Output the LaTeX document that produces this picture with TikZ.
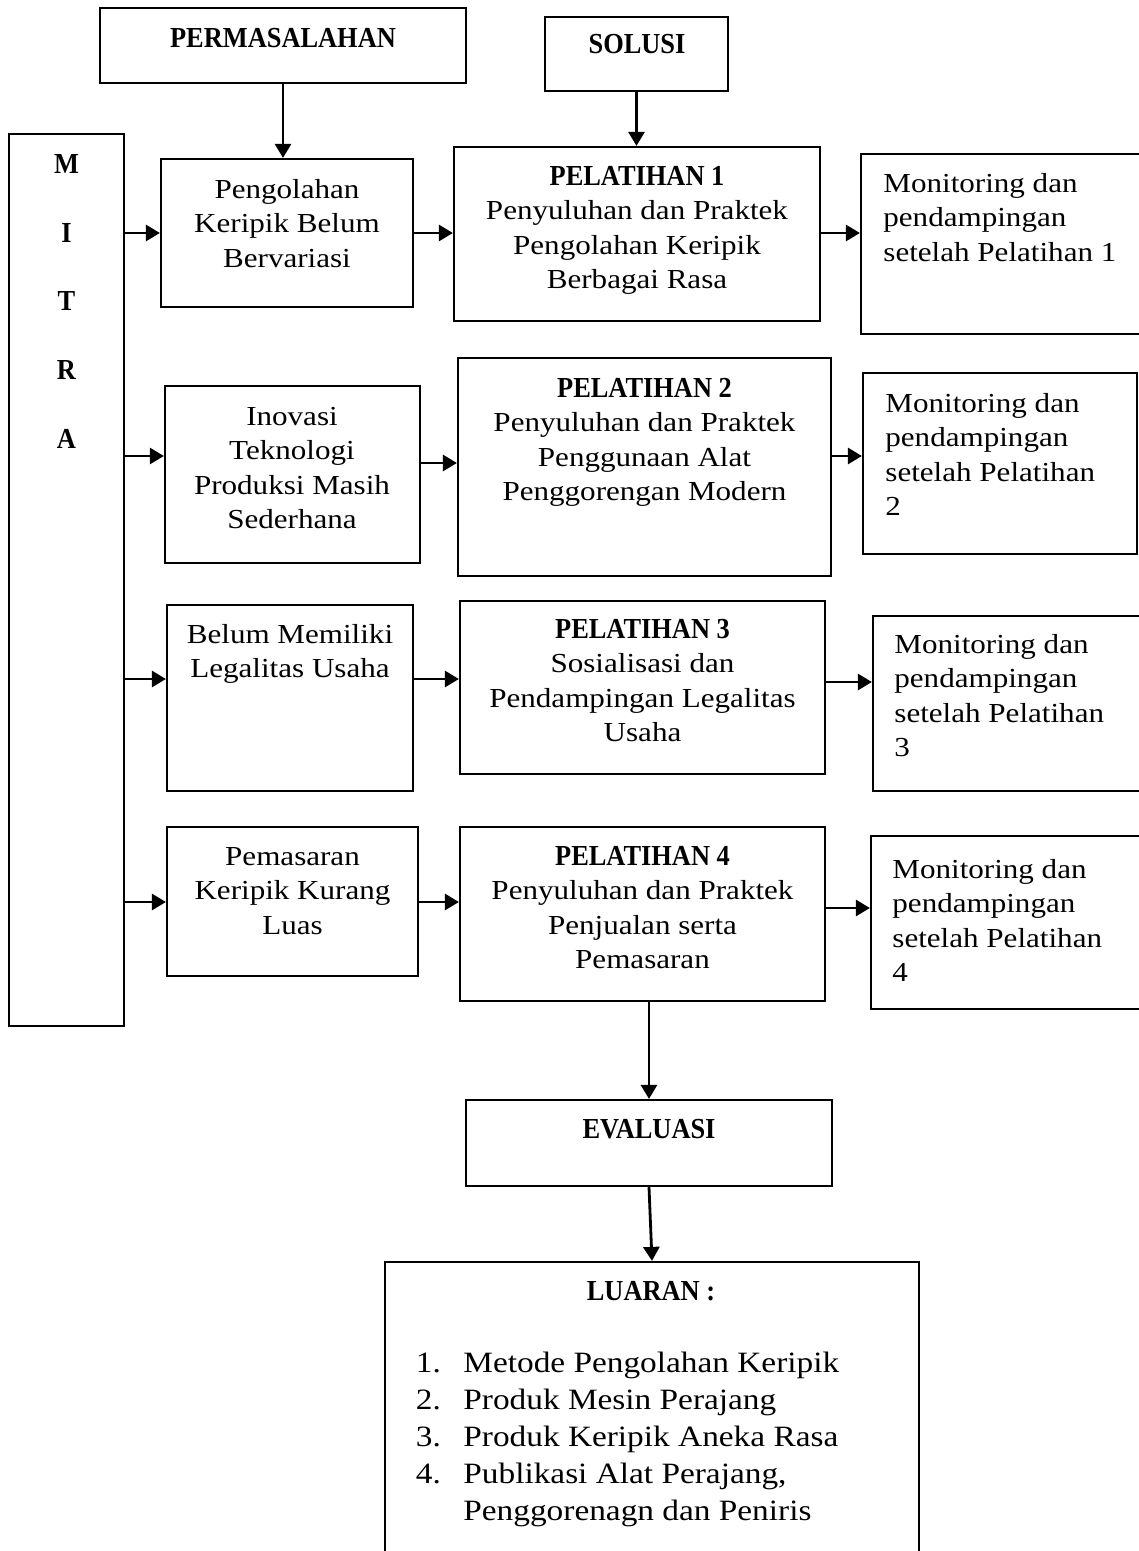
\documentclass[tikz,border=0pt]{standalone}
\usepackage{fontspec}
\setmainfont{Liberation Serif}[FakeStretch=1.13]
\newfontfamily\hdfont{Liberation Serif}[FakeStretch=0.91]
\newcommand\hd{\fontsize{14.5}{17.25}\hdfont\bfseries\selectfont}
\usetikzlibrary{arrows.meta,fit}
\begin{document}
\begin{tikzpicture}[x=0.5pt,y=-0.5pt,
  box/.style={draw, line width=1.1pt, inner sep=0pt},
  arr/.style={line width=1.4pt, -{Triangle[length=7pt,width=8pt]}},
  txt/.style={inner sep=0pt, align=center, anchor=north, font=\fontsize{13.75}{17.25}\selectfont},
  ltxt/.style={txt, align=left, anchor=north west},
  lst/.style={inner sep=0pt, align=left, anchor=north west, font=\fontsize{14.75}{18.5}\selectfont}]
\useasboundingbox (0,0) rectangle (1139,1551);
\fill[white] (0,0) rectangle (1139,1551);
\clip (0,0) rectangle (1139,1551);

% boxes
\node[box, fit={(100,8) (466,83)}] (perm) {};
\node[box, fit={(545,17) (728,91)}] (sol) {};
\node[box, fit={(9,134) (124,1026)}] (mitra) {};
\node[box, fit={(161,159) (413,307)}] (peng) {};
\node[box, fit={(454,147) (820,321)}] (pel1) {};
\node[box, fit={(861,154) (1150,334)}] (mon1) {};
\node[box, fit={(165,386) (420,563)}] (inov) {};
\node[box, fit={(458,358) (831,576)}] (pel2) {};
\node[box, fit={(863,373) (1137,554)}] (mon2) {};
\node[box, fit={(167,605) (413,791)}] (belum) {};
\node[box, fit={(460,601) (825,774)}] (pel3) {};
\node[box, fit={(873,616) (1150,791)}] (mon3) {};
\node[box, fit={(167,827) (418,976)}] (pem) {};
\node[box, fit={(460,827) (825,1001)}] (pel4) {};
\node[box, fit={(871,836) (1150,1009)}] (mon4) {};
\node[box, fit={(466,1100) (832,1186)}] (eval) {};
\node[box, fit={(385,1262) (919,1600)}] (luar) {};

% texts
\node[txt, font=\hd] (tperm) at (283,22.85) {\strut PERMASALAHAN};
\node[txt, font=\hd] (tsol) at (637,28.85) {\strut SOLUSI};
\foreach \ch [count=\i from 0] in {M,I,T,R,A}
  \node[txt, font=\hd] (m\i) at (66.5,{148.85+68.75*\i}) {\strut \ch};
\node[txt] (tpeng) at (287,173.85) {\strut Pengolahan\\Keripik Belum\\Bervariasi};
\node[txt] (tpel1) at (637,160.85) {\strut{\hd PELATIHAN 1}\\Penyuluhan dan Praktek\\Pengolahan Keripik\\Berbagai Rasa};
\node[ltxt] (tmon1) at (883,167.85) {\strut Monitoring dan\\pendampingan\\setelah Pelatihan 1};
\node[txt] (tinov) at (292,400.85) {\strut Inovasi\\Teknologi\\Produksi Masih\\Sederhana};
\node[txt] (tpel2) at (644.5,372.85) {\strut{\hd PELATIHAN 2}\\Penyuluhan dan Praktek\\Penggunaan Alat\\Penggorengan Modern};
\node[ltxt] (tmon2) at (885,387.85) {\strut Monitoring dan\\pendampingan\\setelah Pelatihan\\2};
\node[txt] (tbelum) at (290,618.85) {\strut Belum Memiliki\\Legalitas Usaha};
\node[txt] (tpel3) at (642.5,613.85) {\strut{\hd PELATIHAN 3}\\Sosialisasi dan\\Pendampingan Legalitas\\Usaha};
\node[ltxt] (tmon3) at (894,628.85) {\strut Monitoring dan\\pendampingan\\setelah Pelatihan\\3};
\node[txt] (tpem) at (292.5,840.85) {\strut Pemasaran\\Keripik Kurang\\Luas};
\node[txt] (tpel4) at (642.5,840.85) {\strut{\hd PELATIHAN 4}\\Penyuluhan dan Praktek\\Penjualan serta\\Pemasaran};
\node[ltxt] (tmon4) at (892,853.85) {\strut Monitoring dan\\pendampingan\\setelah Pelatihan\\4};
\node[txt, font=\hd] (teval) at (649,1113.85) {\strut EVALUASI};
\node[txt, font=\hd] (tluar) at (651,1275.85) {\strut LUARAN :};
\node[lst] (lnum) at (415.5,1346.1) {\strut 1.\\2.\\3.\\4.};
\node[lst] (litem) at (463,1346.1) {\strut Metode Pengolahan Keripik\\Produk Mesin Perajang\\Produk Keripik Aneka Rasa\\Publikasi Alat Perajang,\\Penggorenagn dan Peniris};

% row levels
\coordinate (r1) at (0,233);
\coordinate (r2) at (0,456);
\coordinate (r2b) at (0,463);
\coordinate (r3) at (0,679);
\coordinate (r3b) at (0,682);
\coordinate (r4) at (0,902);
\coordinate (r4b) at (0,908);

% connectors
\draw[arr] (perm.south) -- (perm.south |- peng.north);
\draw[arr] (sol.south) -- (sol.south |- pel1.north);
\draw[arr] (mitra.east |- r1) -- (peng.west |- r1);
\draw[arr] (peng.east |- r1) -- (pel1.west |- r1);
\draw[arr] (pel1.east |- r1) -- (mon1.west |- r1);
\draw[arr] (mitra.east |- r2) -- (inov.west |- r2);
\draw[arr] (inov.east |- r2b) -- (pel2.west |- r2b);
\draw[arr] (pel2.east |- r2) -- (mon2.west |- r2);
\draw[arr] (mitra.east |- r3) -- (belum.west |- r3);
\draw[arr] (belum.east |- r3) -- (pel3.west |- r3);
\draw[arr] (pel3.east |- r3b) -- (mon3.west |- r3b);
\draw[arr] (mitra.east |- r4) -- (pem.west |- r4);
\draw[arr] (pem.east |- r4) -- (pel4.west |- r4);
\draw[arr] (pel4.east |- r4b) -- (mon4.west |- r4b);
\draw[arr] (pel4.south -| eval.north) -- (eval.north);
\draw[arr] (eval.south) -- (luar.north);
\end{tikzpicture}
\end{document}
